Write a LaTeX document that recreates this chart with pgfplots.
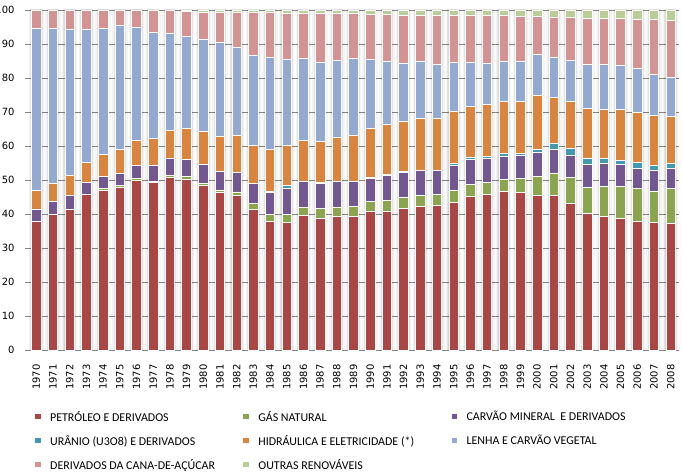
\documentclass[border=0pt]{standalone}
\usepackage{pgfplots}
\pgfplotsset{compat=1.18}
\usepackage{pgfplotstable}
\usepackage{fontspec}
\setmainfont{Carlito}
\newfontfamily\tickfont{DejaVu Sans}
\definecolor{cpet}{HTML}{AA4644}
\definecolor{cgas}{HTML}{8AA54D}
\definecolor{ccoal}{HTML}{735790}
\definecolor{cur}{HTML}{4198AF}
\definecolor{chyd}{HTML}{DB843D}
\definecolor{clen}{HTML}{93A9CF}
\definecolor{ccana}{HTML}{D29392}
\definecolor{cout}{HTML}{B9CD97}
\definecolor{gridc}{HTML}{878787}
\pgfplotstableread{
year pet gas coal ur hyd len cana out tot
1970 37.7 0.0 3.8 0.0 5.4 47.6 5.5 0.0 100
1971 39.8 0.0 3.8 0.0 5.3 45.6 5.5 0.0 100
1972 41.5 0.0 3.9 0.0 5.9 42.9 5.8 0.0 100
1973 45.7 0.0 3.5 0.0 5.9 39.1 5.8 0.0 100
1974 47.0 0.4 3.6 0.0 6.5 37.0 5.5 0.0 100
1975 47.7 0.6 3.6 0.0 7.0 36.5 4.6 0.0 100
1976 49.8 0.7 3.7 0.0 7.4 33.2 5.2 0.0 100
1977 49.2 0.4 4.6 0.0 8.0 31.1 6.7 0.0 100
1978 50.7 0.7 4.9 0.0 8.2 28.5 7.0 0.0 100
1979 50.3 0.7 5.0 0.0 9.1 27.1 7.3 0.5 100
1980 48.3 0.8 5.4 0.0 9.7 27.1 7.9 0.8 100
1981 46.3 0.8 5.4 0.0 10.2 27.7 8.8 0.8 100
1982 45.4 1.1 5.8 0.0 10.8 25.9 10.2 0.8 100
1983 41.4 1.7 5.9 0.0 11.2 26.5 12.6 0.7 100
1984 37.8 2.1 6.4 0.4 12.3 27.1 13.2 0.7 100
1985 37.5 2.4 7.6 0.8 11.9 25.3 13.5 1.0 100
1986 39.5 2.5 7.6 0.1 12.0 24.1 13.2 1.0 100
1987 38.7 2.9 7.4 0.2 12.2 23.2 14.4 1.0 100
1988 39.3 2.7 7.6 0.1 12.8 22.7 13.8 1.0 100
1989 39.3 3.0 7.3 0.1 13.4 22.7 13.2 1.0 100
1990 40.8 2.9 6.8 0.3 14.4 20.3 13.2 1.3 100
1991 40.8 3.2 7.4 0.2 14.8 18.5 13.8 1.3 100
1992 41.7 3.2 7.4 0.2 14.8 17.0 14.1 1.6 100
1993 42.3 3.2 7.3 0.1 15.2 16.8 13.5 1.6 100
1994 42.5 3.3 7.0 0.1 15.2 15.9 14.4 1.6 100
1995 43.4 3.6 7.2 0.7 15.3 14.4 13.8 1.6 100
1996 45.1 3.6 7.4 0.7 14.9 12.9 13.8 1.6 100
1997 45.7 3.6 7.1 0.6 15.3 12.0 14.1 1.6 100
1998 46.6 3.6 6.8 0.8 15.3 11.8 13.5 1.6 100
1999 46.3 4.2 6.8 0.5 15.3 11.8 13.2 1.9 100
2000 45.4 5.7 7.0 0.9 15.9 12.1 11.1 1.9 100
2001 45.4 6.6 6.9 1.8 13.6 11.8 11.7 2.2 100
2002 43.1 7.7 6.5 2.0 13.8 12.1 12.6 2.2 100
2003 40.2 7.6 6.8 1.8 14.7 12.9 13.5 2.5 100
2004 39.3 8.8 6.8 1.5 14.4 13.2 13.5 2.5 100
2005 38.7 9.4 6.5 1.2 14.9 13.0 13.8 2.5 100
2006 37.8 9.7 5.9 1.8 14.7 12.9 14.5 2.7 100
2007 37.5 9.2 6.1 1.5 14.7 12.1 16.2 2.7 100
2008 37.3 10.2 5.9 1.5 13.8 11.5 16.8 3.0 100
}\data
\pgfplotsset{sqleg/.style={legend image code/.code={\fill[##1,draw=none] (0bp,-2.6bp) rectangle (5.2bp,2.6bp); \path (0bp,0bp) (12.5bp,0bp);}}}
\newcommand{\legent}[1]{\addlegendentry{\makebox[191bp][l]{#1}}}
\begin{document}
\begin{tikzpicture}
% grid and soft shadows behind the bars
\begin{axis}[
  at={(0,0)}, anchor=south west,
  scale only axis, width=651bp, height=340bp,
  xmin=1969.5, xmax=2008.5, ymin=0, ymax=100,
  ytick={0,10,...,100}, xtick=\empty, yticklabels={},
  ymajorgrids, grid style={color=gridc, line width=0.8bp},
  axis x line*=bottom, axis y line*=left,
  y axis line style={draw=none}, x axis line style={draw=none},
  ytick style={draw=none},
]
\addplot[ybar, bar width=0.57, fill=none, draw=black, draw opacity=0.045, line width=6bp] table[x=year,y=tot]{\data};
\addplot[ybar, bar width=0.57, fill=none, draw=black, draw opacity=0.07, line width=3bp] table[x=year,y=tot]{\data};
\end{axis}
\begin{axis}[
  at={(0,0)}, anchor=south west,
  scale only axis, width=651bp, height=340bp,
  ybar stacked, bar width=0.57,
  xmin=1969.5, xmax=2008.5, ymin=0, ymax=100,
  ytick={0,10,...,100}, xtick=data,
  /pgf/number format/assume math mode=true,
  /pgf/number format/1000 sep={},
  tick label style={font=\tickfont\fontsize{10}{11}\selectfont},
  x tick label style={rotate=90, anchor=east},
  xticklabel shift=8bp,
  axis x line*=bottom, axis y line*=left,
  y axis line style={draw=none}, x axis line style={color=gridc, line width=0.8bp},
  xtick style={draw=none}, ytick style={color=gridc, line width=0.8bp},
  tick align=outside, major tick length=3bp,
  yticklabel shift=7bp,
  every axis plot/.append style={draw=white, line width=0.7bp},
  legend columns=3,
  legend cell align=left,
  legend style={draw=none, fill=none, at={(axis description cs:0.0107,-0.174)}, anchor=north west,
    inner sep=0pt, outer sep=0pt, column sep=0pt, row sep=8.5bp,
    font=\fontsize{12}{12.5}\selectfont},
]
\addplot[fill=cpet, sqleg] table[x=year,y=pet]{\data}; \legent{PETRÓLEO E DERIVADOS}
\addplot[fill=cgas, sqleg] table[x=year,y=gas]{\data}; \legent{GÁS NATURAL}
\addplot[fill=ccoal, sqleg] table[x=year,y=coal]{\data}; \legent{CARVÃO MINERAL\ \ E DERIVADOS}
\addplot[fill=cur, sqleg] table[x=year,y=ur]{\data}; \legent{URÂNIO (U3O8) E DERIVADOS}
\addplot[fill=chyd, sqleg] table[x=year,y=hyd]{\data}; \legent{HIDRÁULICA E ELETRICIDADE (*)}
\addplot[fill=clen, sqleg] table[x=year,y=len]{\data}; \legent{LENHA E CARVÃO VEGETAL}
\addplot[fill=ccana, sqleg] table[x=year,y=cana]{\data}; \legent{DERIVADOS DA CANA-DE-AÇÚCAR}
\addplot[fill=cout, sqleg] table[x=year,y=out]{\data}; \legent{OUTRAS RENOVÁVEIS}
\end{axis}
\pgfresetboundingbox
\useasboundingbox (-28bp,-122bp) rectangle (654bp,350bp);
\end{tikzpicture}
\end{document}
